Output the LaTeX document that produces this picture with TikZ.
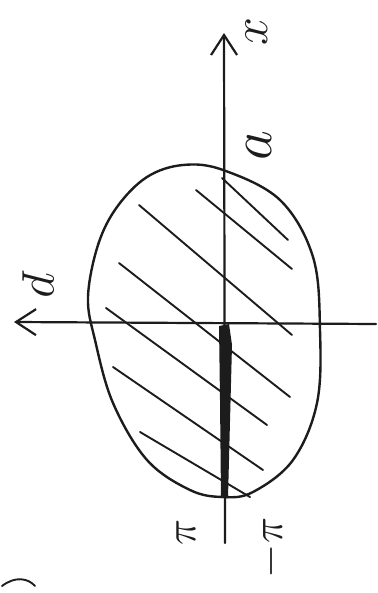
\RequirePackage{fix-cm}
\documentclass[tikz,border=0pt]{standalone}
\usepackage{amsmath,amssymb}
\usepackage{tikz}
\usetikzlibrary{arrows.meta}
\definecolor{pencil}{HTML}{1C1C1C}
\tikzset{
  axis/.style={draw=pencil,line width=2.2pt,line cap=round,
    -{Straight Barb[length=20pt,width=26pt]}},
  rim/.style={draw=pencil,line width=2.4pt},
  hatch/.style={draw=pencil,line width=1.9pt,line cap=round},
  scrawl/.style={text=pencil,inner sep=0pt,rotate=90,font=\fontsize{50}{50}\selectfont},
}

\begin{document}
\begin{tikzpicture}[x=1pt,y=-1pt]
  \useasboundingbox (0,0) rectangle (377,593);
  % axes
  \coordinate (xfoot) at (225,543);
  \coordinate (xtip) at (224,33);
  \coordinate (pfoot) at (376,324);
  \coordinate (ptip) at (14,322);
  % phase-space blob
  \draw[rim] plot[smooth cycle,tension=0.6] coordinates {
    (183,165) (223,170) (280,200) (313,257) (320,330) (317,403) (293,460)
    (253,492) (223,497) (190,490) (147,460) (113,403) (95,340) (88,297)
    (98,245) (117,207) (147,177)};
  \foreach \a/\b in {222/178,196/190,139/205,119/263,106/308,113/367,140/432}{
    \coordinate (h\a) at (\a,\b);
  }
  \foreach \a/\c/\d in {222/288/240,196/292/269,139/292/335,119/290/397,
                        106/267/425,113/263/470,140/250/497}{
    \draw[hatch] (h\a) -- (\c,\d);
  }
  \draw[axis] (xfoot) -- (xtip);
  \draw[axis] (pfoot) -- (ptip);
  % thick segment on the axis
  \fill[pencil] (219,326) -- (229,324) -- (232,345) -- (228,498) -- (221,498) -- (220,400) -- cycle;
  % labels
  \node[scrawl] (xlab) at (257,32) {$x$};
  \node[scrawl,font=\fontsize{58}{58}\selectfont] (alab) at (259,146) {$a$};
  \node[scrawl,rotate=180] (plab) at (38,285) {$p$};
  \node[scrawl,font=\fontsize{44}{44}\selectfont] (pilab) at (186,532) {$\pi$};
  \node[scrawl,font=\fontsize{44}{44}\selectfont] (mpilab) at (271,548) {$-\pi$};
  % stray stroke
  \draw[hatch] (2,586) .. controls (15,576) and (28,578) .. (35,586);
\end{tikzpicture}
\end{document}
